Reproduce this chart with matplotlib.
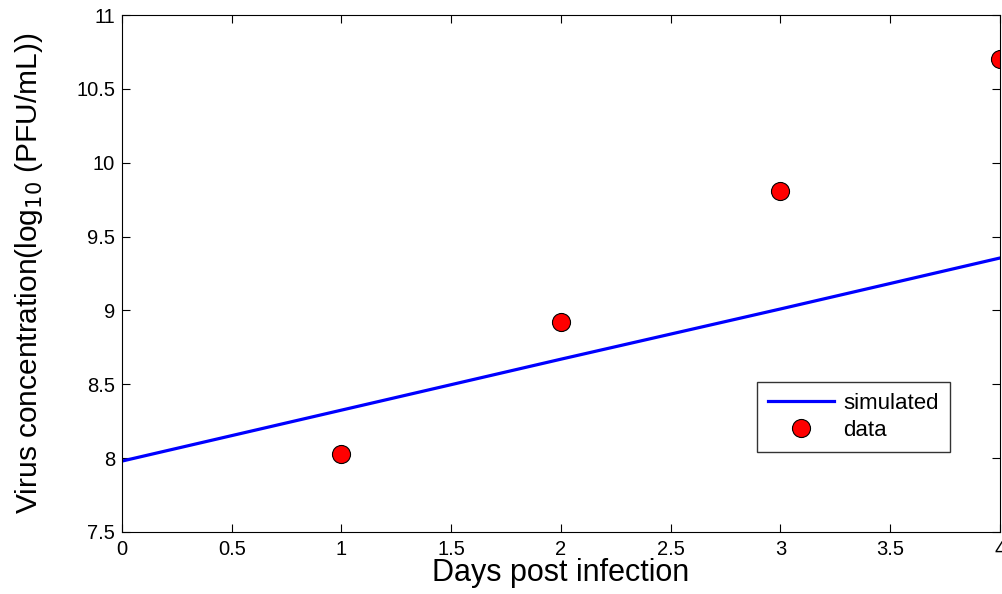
import matplotlib.pyplot as plt

plt.rcParams['font.family'] = ['Liberation Sans', 'DejaVu Sans']

# simulated curve
sim_days = [0, 1, 2, 3, 4]
sim_virus = [7.98, 8.325, 8.67, 9.01, 9.355]

# observed data
data_days = [1, 2, 3, 4]
data_virus = [8.03, 8.92, 9.81, 10.70]

xticks = [0, 0.5, 1, 1.5, 2, 2.5, 3, 3.5, 4]
yticks = [7.5, 8, 8.5, 9, 9.5, 10, 10.5, 11]

fig = plt.figure(figsize=(10.03, 5.94), dpi=100)
ax = fig.add_axes([0.1216, 0.1044, 0.8754, 0.8703])

ax.plot(sim_days, sim_virus, color='#0000ff', lw=2.3, label='simulated')
ax.plot(data_days, data_virus, 'o', color='red', mec='black', mew=0.8,
        ms=13, label='data')

ax.set_xlim(0, 4)
ax.set_ylim(7.5, 11)
ax.set_xticks(xticks)
ax.set_xticklabels(['0', '0.5', '1', '1.5', '2', '2.5', '3', '3.5', '4'])
ax.set_yticks(yticks)
ax.set_yticklabels(['7.5', '8', '8.5', '9', '9.5', '10', '10.5', '11'])
ax.tick_params(direction='in', top=True, right=True, labelsize=14.5, length=6)
ax.tick_params(axis='x', pad=6)
ax.tick_params(axis='y', pad=5)

ax.set_xlabel('Days post infection', fontsize=22)
ax.set_ylabel('Virus concentration(log$_{10}$ (PFU/mL))', fontsize=21.5)
ax.xaxis.set_label_coords(0.5, -0.05)
ax.yaxis.set_label_coords(-0.088, 0.5)

leg = ax.legend(loc='lower right', bbox_to_anchor=(0.943, 0.155), fontsize=16,
                frameon=True, fancybox=False, edgecolor='black',
                borderaxespad=0, handlelength=3.0, handletextpad=0.4,
                borderpad=0.5, labelspacing=0.25)
leg.get_frame().set_linewidth(1.0)

fig.savefig('out.png', dpi=100)
